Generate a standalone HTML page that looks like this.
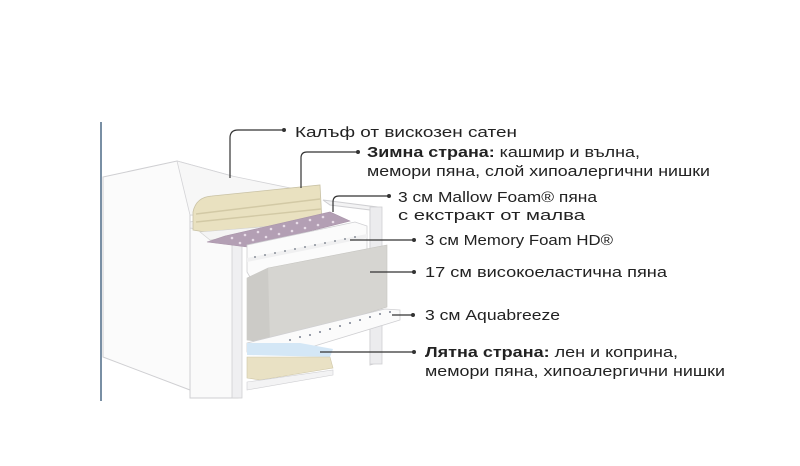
<!DOCTYPE html>
<html><head><meta charset="utf-8"><style>
html,body{margin:0;padding:0;background:#fff;width:800px;height:466px;overflow:hidden}
svg{display:block}
text{font-family:"Liberation Sans","DejaVu Sans",sans-serif;font-size:14.5px;fill:#222}
</style></head><body>
<svg width="800" height="466" viewBox="0 0 800 466">
<line x1="101" y1="122" x2="101" y2="401" stroke="#4d6a85" stroke-width="1.5"/>
<polygon points="103,177 177,161 232,176 232,215 190,215 190,390 103,357" fill="#fbfbfb" stroke="#cfcfd2" stroke-width="1"/>
<polygon points="177,161 232,176 300,190 300,200 200,215 190,215" fill="#f7f7f7" stroke="#d3d3d6" stroke-width="0.8"/>
<polygon points="323,200 377,207 377,363 370,365 370,210 330,205" fill="#f3f3f4" stroke="#cfcfd2"/>
<rect x="370" y="207" width="12" height="157" fill="#ececee" stroke="#cfcfd2" stroke-width="0.8"/>
<polygon points="190,228 232,228 238,232 238,398 190,398" fill="#fafafa" stroke="#cfcfd2"/>
<rect x="232" y="232" width="10" height="166" fill="#efeff1" stroke="#d0d0d3" stroke-width="0.8"/>
<polygon points="190,222 200,220 245,228 245,236 190,228" fill="#f2f2f3" stroke="#cfcfd2" stroke-width="0.8"/>
<path d="M193,212 Q196,197 212,196 L320,185 L322,222 L205,232 L193,230 Z" fill="#e9e1c0" stroke="#c9c2a5" stroke-width="0.8"/>
<path d="M196,214 L320,199 M196,222 L321,209" stroke="#d2c9a5" stroke-width="1.4" fill="none"/>
<polygon points="200,232 322,222 330,214 330,224 210,240" fill="#f4f4f4" stroke="#d0d0d0" stroke-width="0.6"/>
<polygon points="207,242 225,236 330,212 350,221 247,247" fill="#b39fb4" stroke="#a893a8" stroke-width="0.6"/>
<g fill="#e8dce8">
<circle cx="232" cy="238" r="1.3"/><circle cx="245" cy="235" r="1.3"/><circle cx="258" cy="232" r="1.3"/><circle cx="271" cy="229" r="1.3"/><circle cx="284" cy="226" r="1.3"/><circle cx="297" cy="223" r="1.3"/><circle cx="310" cy="220" r="1.3"/><circle cx="323" cy="217" r="1.3"/>
<circle cx="240" cy="243" r="1.3"/><circle cx="253" cy="240" r="1.3"/><circle cx="266" cy="237" r="1.3"/><circle cx="279" cy="234" r="1.3"/><circle cx="292" cy="231" r="1.3"/><circle cx="305" cy="228" r="1.3"/><circle cx="318" cy="225" r="1.3"/><circle cx="333" cy="222" r="1.3"/>
</g>
<polygon points="247,245 355,222 367,226 367,250 250,277 247,272" fill="#fbfbfb" stroke="#cfcfd2" stroke-width="0.8"/>
<polygon points="247,258 367,234 367,238 247,262" fill="#f0f0f1"/>
<g fill="#8a8f99">
<circle cx="255" cy="257" r="1"/><circle cx="265" cy="255" r="1"/><circle cx="275" cy="253" r="1"/><circle cx="285" cy="251" r="1"/><circle cx="295" cy="249" r="1"/><circle cx="305" cy="247" r="1"/><circle cx="315" cy="245" r="1"/><circle cx="325" cy="243" r="1"/><circle cx="335" cy="241" r="1"/><circle cx="345" cy="239" r="1"/><circle cx="355" cy="237" r="1"/>
</g>
<polygon points="247,278 268,268 387,245 387,307 270,343 247,340" fill="#d6d5d1" stroke="#c6c5c1" stroke-width="0.6"/>
<polygon points="247,278 268,268 270,343 247,340" fill="#cccbc7"/>
<polygon points="247,343 385,309 400,310 400,320 285,355 247,352" fill="#fbfbfb" stroke="#cfcfd2" stroke-width="0.8"/>
<polygon points="247,343 300,343 333,349 330,357 247,355" fill="#d4e7f6"/>
<g fill="#7a8090">
<circle cx="290" cy="340" r="1"/><circle cx="300" cy="337" r="1"/><circle cx="310" cy="335" r="1"/><circle cx="320" cy="332" r="1"/><circle cx="330" cy="329" r="1"/><circle cx="340" cy="326" r="1"/><circle cx="350" cy="323" r="1"/><circle cx="360" cy="320" r="1"/><circle cx="370" cy="317" r="1"/><circle cx="380" cy="314" r="1"/><circle cx="390" cy="312" r="1"/>
</g>
<polygon points="247,357 330,357 333,368 260,380 247,378" fill="#e9e1c4" stroke="#cfc7a8" stroke-width="0.6"/>
<polygon points="247,382 333,370 333,375 247,390" fill="#f3f3f4" stroke="#cfcfd2" stroke-width="0.6"/>
<g stroke="#333" stroke-width="1.2" fill="none">
<path d="M230,178 V138 Q230,130 238,130 H283"/>
<path d="M301,188 V158 Q301,152 307,152 H357"/>
<path d="M333,212 V202 Q333,196 339,196 H388"/>
<path d="M350,240 H413"/>
<path d="M370,272 H413"/>
<path d="M392,315 H412"/>
<path d="M320,352 H413"/>
</g>
<g fill="#333">
<circle cx="284" cy="130" r="2"/><circle cx="358" cy="152" r="2"/><circle cx="389" cy="196" r="2"/><circle cx="414" cy="240" r="2"/><circle cx="414" cy="272" r="2"/><circle cx="413" cy="315" r="2"/><circle cx="414" cy="352" r="2"/>
</g>
<text x="295" y="137" textLength="222" lengthAdjust="spacingAndGlyphs">Калъф от вискозен сатен</text>
<text x="367" y="157" textLength="273" lengthAdjust="spacingAndGlyphs"><tspan font-weight="bold">Зимна страна:</tspan> кашмир и вълна,</text>
<text x="367" y="176" textLength="343" lengthAdjust="spacingAndGlyphs">мемори пяна, слой хипоалергични нишки</text>
<text x="398" y="202" textLength="199" lengthAdjust="spacingAndGlyphs">3 см Mallow Foam® пяна</text>
<text x="398" y="220" textLength="187" lengthAdjust="spacingAndGlyphs">с екстракт от малва</text>
<text x="425" y="245" textLength="188" lengthAdjust="spacingAndGlyphs">3 см Memory Foam HD®</text>
<text x="425" y="277" textLength="242" lengthAdjust="spacingAndGlyphs">17 см високоеластична пяна</text>
<text x="425" y="320" textLength="135" lengthAdjust="spacingAndGlyphs">3 см Aquabreeze</text>
<text x="425" y="357" textLength="253" lengthAdjust="spacingAndGlyphs"><tspan font-weight="bold">Лятна страна:</tspan> лен и коприна,</text>
<text x="425" y="376" textLength="300" lengthAdjust="spacingAndGlyphs">мемори пяна, хипоалергични нишки</text>
</svg>
</body></html>
